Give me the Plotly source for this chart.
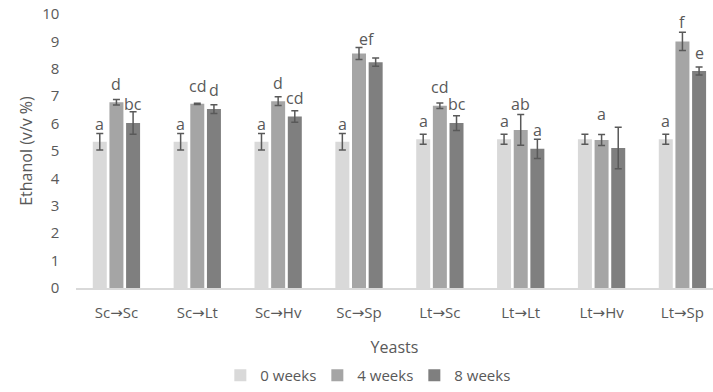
import plotly.graph_objects as go

# Yeast sequences (first -> second) and ethanol content after storage
yeasts = ["Sc→Sc", "Sc→Lt", "Sc→Hv", "Sc→Sp", "Lt→Sc", "Lt→Lt", "Lt→Hv", "Lt→Sp"]
series_names = ["0 weeks", "4 weeks", "8 weeks"]

ethanol_0w = [5.34, 5.34, 5.34, 5.34, 5.43, 5.43, 5.43, 5.43]
ethanol_4w = [6.78, 6.72, 6.82, 8.56, 6.65, 5.77, 5.40, 9.00]
ethanol_8w = [6.02, 6.53, 6.26, 8.24, 6.02, 5.08, 5.11, 7.92]

err_0w = [0.30, 0.30, 0.30, 0.30, 0.18, 0.18, 0.18, 0.18]
err_4w = [0.10, 0.02, 0.16, 0.22, 0.10, 0.56, 0.20, 0.33]
err_8w = [0.41, 0.16, 0.21, 0.15, 0.27, 0.35, 0.76, 0.15]

# Significance letters per bar ("" = no letter) and the height they sit at
letters_0w = ["a", "a", "a", "a", "a", "a", "", "a"]
letters_4w = ["d", "cd", "d", "ef", "cd", "ab", "a", "f"]
letters_8w = ["bc", "d", "cd", "", "bc", "a", "", "e"]
letter_y_0w = [5.99, 5.99, 5.99, 5.99, 6.11, 6.11, 0, 6.11]
letter_y_4w = [7.46, 7.38, 7.50, 9.10, 7.32, 6.70, 6.34, 9.69]
letter_y_8w = [6.71, 7.23, 6.93, 0, 6.73, 5.75, 0, 8.56]

colors = ["#d9d9d9", "#a5a5a5", "#7f7f7f"]
text_color = "#595959"
font_family = "Open Sans, DejaVu Sans, sans-serif"

values = [ethanol_0w, ethanol_4w, ethanol_8w]
errors = [err_0w, err_4w, err_8w]
letters = [letters_0w, letters_4w, letters_8w]
letter_ys = [letter_y_0w, letter_y_4w, letter_y_8w]

xs = list(range(len(yeasts)))

fig = go.Figure()
for name, vals, errs, col in zip(series_names, values, errors, colors):
    fig.add_trace(go.Bar(
        x=xs, y=vals, name=name,
        marker=dict(color=col, line=dict(width=0)),
        error_y=dict(type="data", array=errs, visible=True,
                     color="#595959", thickness=1.5, width=3.5),
    ))

bargap = 0.382
bargroupgap = 0.16
slot = (1 - bargap) / 3  # width of one bar slot in category units

annotations = []
for j, (labs, ys) in enumerate(zip(letters, letter_ys)):
    for i, (lab, yv) in enumerate(zip(labs, ys)):
        if not lab:
            continue
        dx = (j - 1) * slot
        if lab == "ef":
            dx += 0.1
        annotations.append(dict(
            x=i + dx, y=yv, text=lab, showarrow=False,
            xanchor="center", yanchor="middle",
            font=dict(family=font_family, size=16, color=text_color),
        ))

fig.update_layout(
    width=713, height=392,
    margin=dict(l=76, r=0, t=14, b=96),
    paper_bgcolor="white", plot_bgcolor="white",
    barmode="group", bargap=bargap, bargroupgap=bargroupgap,
    font=dict(family=font_family, size=15, color=text_color),
    showlegend=True,
    legend=dict(orientation="h", x=0.455, xanchor="center",
                y=-0.32, yanchor="middle",
                font=dict(size=15, color=text_color),
                itemwidth=30, entrywidth=52, entrywidthmode="pixels",
                traceorder="normal"),
    annotations=annotations,
    xaxis=dict(
        tickmode="array", tickvals=xs, ticktext=yeasts,
        range=[-0.5, 7.378], showgrid=False, zeroline=False,
        showline=True, linecolor="#d9d9d9", linewidth=1.5,
        ticks="", ticklabelstandoff=10,
        tickfont=dict(size=15, color=text_color),
        title=dict(text="Yeasts", font=dict(size=16, color=text_color), standoff=21),
        automargin=False,
    ),
    yaxis=dict(
        range=[0, 10], tickmode="linear", dtick=1,
        showgrid=False, zeroline=False, showline=False, ticks="",
        ticksuffix="\u00a0\u00a0\u00a0\u00a0",
        tickfont=dict(size=15, color=text_color),
        title=dict(text="Ethanol (v/v %)", font=dict(size=16, color=text_color), standoff=5),
        automargin=False,
    ),
)

fig.write_html("out.html")
